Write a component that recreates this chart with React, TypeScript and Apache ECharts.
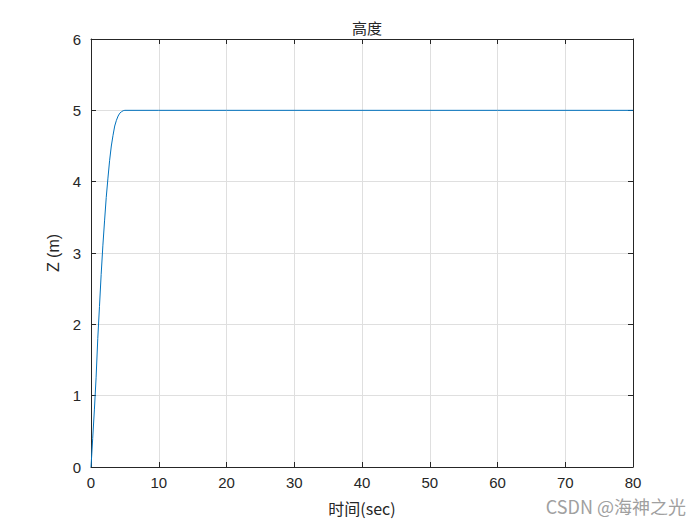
import React, { useEffect, useRef } from "react";
import * as echarts from "echarts";

const timeSec: number[] = [0, 0.25, 0.5, 0.75, 1, 1.25, 1.5, 1.75, 2, 2.25, 2.5, 2.75, 3, 3.25, 3.5, 3.75, 4, 4.25, 4.5, 4.75, 5, 10, 20, 40, 60, 80];
const heightZ: number[] = [0, 0.4, 0.8, 1.25, 1.8, 2.25, 2.7, 3.1, 3.45, 3.78, 4.05, 4.3, 4.5, 4.65, 4.78, 4.86, 4.92, 4.96, 4.98, 4.995, 5, 5, 5, 5, 5, 5];
const xTicks = { min: 0, max: 80, interval: 10 };
const yTicks = { min: 0, max: 6, interval: 1 };

const axisColor = "#262626";
const gridColor = "#dfdfdf";
const font = "Arial, 'Liberation Sans', sans-serif";

export default function App() {
  const ref = useRef<HTMLDivElement>(null);
  useEffect(() => {
    if (!ref.current) return;
    const chart = echarts.init(ref.current, undefined, { renderer: "svg" });
    const baseLine = { show: true, onZero: false, lineStyle: { color: axisColor, width: 1 } };
    const tick = { show: true, inside: true, length: 5, lineStyle: { color: axisColor, width: 1 } };
    chart.setOption({
      animation: false,
      backgroundColor: "#ffffff",
      title: {
        text: "高度",
        left: 362,
        textAlign: "center",
        top: 15,
        textStyle: { fontSize: 15, fontWeight: "normal", color: axisColor, fontFamily: "'Noto Sans CJK SC', sans-serif" },
      },
      grid: { left: 91, right: 67, top: 39, bottom: 58, containLabel: false },
      xAxis: [
        {
          type: "value",
          min: xTicks.min,
          max: xTicks.max,
          interval: xTicks.interval,
          position: "bottom",
          name: "时间(sec)",
          nameLocation: "middle",
          nameGap: 33,
          nameTextStyle: { fontSize: 16, color: axisColor, fontFamily: "'Noto Sans CJK SC', Arial, sans-serif" },
          axisLine: baseLine,
          axisTick: tick,
          axisLabel: { fontSize: 15, color: axisColor, fontFamily: font, margin: 8 },
          splitLine: { show: true, lineStyle: { color: gridColor, width: 1 } },
        },
        {
          type: "value",
          min: xTicks.min,
          max: xTicks.max,
          interval: xTicks.interval,
          position: "top",
          axisLine: baseLine,
          axisTick: tick,
          axisLabel: { show: false },
          splitLine: { show: false },
        },
      ],
      yAxis: [
        {
          type: "value",
          min: yTicks.min,
          max: yTicks.max,
          interval: yTicks.interval,
          position: "left",
          name: "Z (m)",
          nameLocation: "middle",
          nameGap: 24,
          nameRotate: 90,
          nameTextStyle: { fontSize: 16, color: axisColor, fontFamily: font },
          axisLine: baseLine,
          axisTick: tick,
          axisLabel: { fontSize: 15, color: axisColor, fontFamily: font, margin: 10 },
          splitLine: { show: true, lineStyle: { color: gridColor, width: 1 } },
        },
        {
          type: "value",
          min: yTicks.min,
          max: yTicks.max,
          interval: yTicks.interval,
          position: "right",
          axisLine: baseLine,
          axisTick: tick,
          axisLabel: { show: false },
          splitLine: { show: false },
        },
      ],
      series: [
        {
          type: "line",
          data: timeSec.map((t, i) => [t, heightZ[i]]),
          showSymbol: false,
          smooth: false,
          lineStyle: { color: "#0072BD", width: 1 },
          itemStyle: { color: "#0072BD" },
          xAxisIndex: 0,
          yAxisIndex: 0,
        },
      ],
      graphic: [
        {
          type: "text",
          right: 14,
          top: 497,
          style: {
            text: "CSDN @海神之光",
            fontSize: 18,
            fill: "#a0a0a0",
            fontFamily: "'Noto Sans CJK SC', Arial, sans-serif",
          },
        },
      ],
    });
    return () => chart.dispose();
  }, []);
  return <div ref={ref} style={{ width: 700, height: 525, position: "fixed", left: 0, top: 0 }} />;
}
